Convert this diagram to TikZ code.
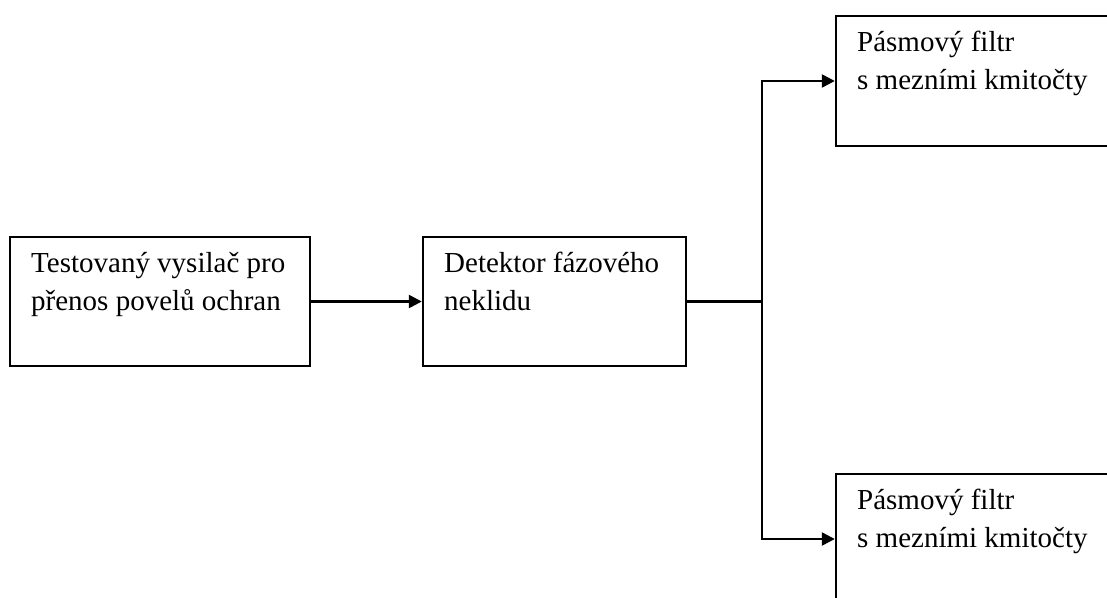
\documentclass[tikz,border=0pt]{standalone}
\usepackage{fontspec}
\setmainfont{Liberation Serif}
\usetikzlibrary{arrows.meta}
\begin{document}
\begin{tikzpicture}[x=1pt,y=-1pt,
  blk/.style={draw,line width=2.4pt,rectangle,inner sep=0pt},
  lbl/.style={anchor=base west,inner sep=0pt,align=left,font=\fontsize{29}{38.5}\selectfont},
  conn/.style={line width=2.4pt},
  arr/.style={line width=2.4pt,-{Triangle[length=13pt,width=13pt]}}]
\useasboundingbox (0,0) rectangle (1107,597);
\clip (0,0) rectangle (1107,597);
\node[blk,minimum width=300pt,minimum height=129pt] (b1) at (160,301.5) {};
\node[blk,minimum width=263pt,minimum height=129pt] (b2) at (554.5,301.5) {};
\node[blk,minimum width=290pt,minimum height=130pt] (b3) at (981,81) {};
\node[blk,minimum width=290pt,minimum height=130pt] (b4) at (981,539) {};
\node[lbl] (t1) at (31,310.5) {Testovaný vysilač pro\\přenos povelů ochran};
\node[lbl] (t2) at (444,310.5) {Detektor fázového\\neklidu};
\node[lbl] (t3) at (857,89.5) {Pásmový filtr\\s mezními kmitočty};
\node[lbl] (t4) at (857,547.5) {Pásmový filtr\\s mezními kmitočty};
\coordinate (j) at (762,301.5);
\draw[arr] (b1.east) -- (b2.west);
\draw[conn] (b2.east) -- (j);
\draw[arr] (j) |- (b3.west);
\draw[arr] (j) |- (b4.west);
\end{tikzpicture}
\end{document}
